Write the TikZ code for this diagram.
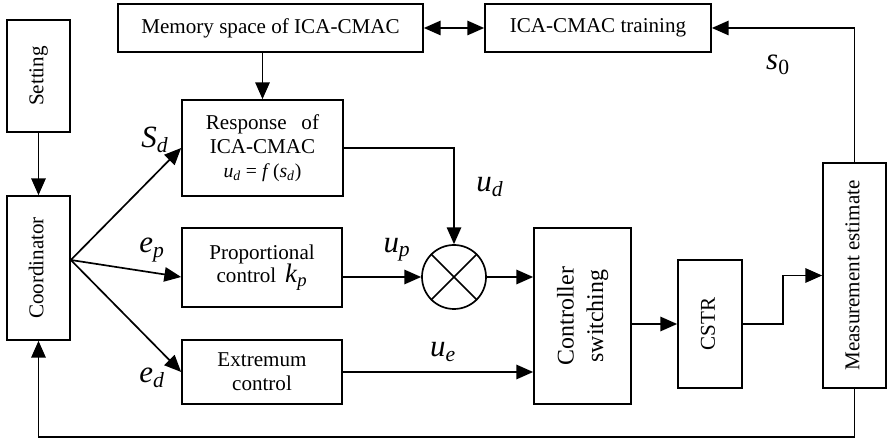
\documentclass[tikz,border=0pt]{standalone}
\usepackage{fontspec}
\setmainfont{Liberation Serif}
\usetikzlibrary{arrows.meta}
\newcommand{\sig}[2]{\textit{#1}\textsubscript{\textit{#2}}}
\newcommand{\vtext}[1]{\rotatebox{90}{\begin{tabular}{@{}c@{}}#1\end{tabular}}}

\begin{document}
\begin{tikzpicture}[>={Triangle[length=0.42cm,width=0.36cm]},line width=1.2pt,
blk/.style={rectangle, draw, align=center, inner sep=1pt, font=\fontsize{15}{17}\selectfont},
mult/.style={circle, draw, minimum size=1.6cm, inner sep=0pt},
sig/.style={inner sep=0pt, font=\fontsize{22}{24}\selectfont}]
\useasboundingbox (0,0) rectangle (22.2,10.95);

\draw (0.9625,9.05) node[blk, minimum width=1.575cm, minimum height=2.8cm] (SET) {\vtext{Setting}};
\draw (0.9625,4.25) node[blk, minimum width=1.575cm, minimum height=3.6cm] (COO) {\vtext{Coordinator}};
\draw (6.7625,10.25) node[blk, minimum width=7.625cm, minimum height=1.2cm] (MEM) {Memory space of ICA-CMAC};
\draw (14.95,10.25) node[blk, minimum width=5.65cm, minimum height=1.2cm] (TRN) {ICA-CMAC training};
\draw (6.5625,7.25) node[blk, minimum width=4.025cm, minimum height=2.4cm] (RSP) {Response\hspace{0.7em}of\\ICA-CMAC\\{\fontsize{14}{16}\selectfont\sig{u}{d} = \textit{f}\,(\sig{s}{d})}};
\draw (6.55,4.2625) node[blk, minimum width=4.0cm, minimum height=1.975cm] (PRO) {Proportional\\control \,{\fontsize{19}{17}\selectfont\sig{k}{p}}};
\draw (6.55,1.65) node[blk, minimum width=4.0cm, minimum height=1.6cm] (EXT) {Extremum\\control};
\draw (11.35,4.025) node[mult] (MUL) {};
\draw (14.5625,3.05) node[blk, minimum width=2.425cm, minimum height=4.4cm, font=\fontsize{17}{21}\selectfont] (CSW) {\vtext{Controller\\switching}};
\draw (17.75,2.85) node[blk, minimum width=1.6cm, minimum height=3.2cm] (CSTR) {\vtext{CSTR}};
\draw (21.3625,4.0625) node[blk, minimum width=1.575cm, minimum height=5.625cm] (MEA) {\vtext{Measurement estimate}};
\coordinate (apex) at ([yshift=0.2cm]COO.east);

% signal labels
\draw (3.875,7.45) node[sig] (Lsd) {\sig{S}{d}};
\draw (3.8,4.7) node[sig] (Lep) {\sig{e}{p}};
\draw (3.8,1.5) node[sig] (Led) {\sig{e}{d}};
\draw (12.25,6.275) node[sig] (Lud) {\sig{u}{d}};
\draw (9.925,4.7) node[sig] (Lup) {\sig{u}{p}};
\draw (11.075,2.15) node[sig] (Lue) {\sig{u}{e}};
\draw (19.45,9.325) node[sig] (Ls0) {\textit{s}\textsubscript{0}};

\draw (MUL.north west)--(MUL.south east);
\draw (MUL.north east)--(MUL.south west);

\draw[->] (SET)--(COO);
\draw[->] (RSP.north |- MEM.south)--(RSP.north);
\draw[<->] (MEM)--(TRN);
\draw[->] (MEA.north) |- (TRN.east);
\draw[->] (apex)--(RSP.west);
\draw[->] (apex)--(PRO.west |- MUL.west);
\draw[->] (apex)--(EXT.west);
\draw[->] (RSP.east) -| (MUL.north);
\draw[->] (PRO.east |- MUL.west)--(MUL.west);
\draw[->] (MUL.east)--(CSW.west |- MUL.east);
\draw[->] (EXT.east)--(CSW.west |- EXT.east);
\draw[->] (CSW.east |- CSTR.west)--(CSTR.west);
\draw[->] (CSTR.east)--++(1cm,0) |- (MEA.west);
\draw[->] (MEA.south)--++(0,-1.2cm) -| (COO.south);
\end{tikzpicture}
\end{document}
